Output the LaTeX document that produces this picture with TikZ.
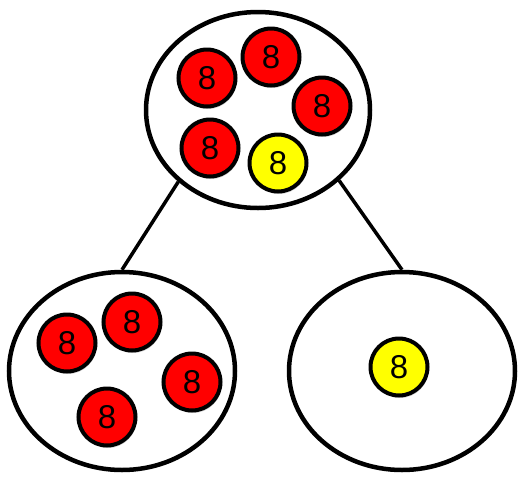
\documentclass[tikz,border=0pt]{standalone}
\usepackage{fontspec}
\setmainfont{Liberation Sans}
\usepackage{tikz}
\usetikzlibrary{shapes.geometric}
\usetikzlibrary{shadows}
\definecolor{ball-red}{HTML}{FF0000}
\definecolor{ball-yellow}{HTML}{FFFF00}

\begin{document}
\begin{tikzpicture}[
    x=1pt, y=-1pt,
    line width=3.5pt
  ]

  % Styles for the sets and the counters
  \tikzset{
    set/.style={draw=black, ellipse, fill=white, inner sep=0pt, line width=4.5pt},
    bigset/.style={set, minimum width=224pt, minimum height=196pt},
    counter/.style={draw=black, circle, inner sep=0pt, minimum size=57pt, line width=4pt,
      font=\fontsize{33}{33}\selectfont, drop shadow={shadow xshift=1pt, shadow yshift=-2.5pt, opacity=0.35}},
    redcounter/.style={counter, fill=ball-red},
    yellowcounter/.style={counter, fill=ball-yellow}
  }

  \useasboundingbox (0,0) rectangle (522,499);

  % The three sets
  \node (whole) [bigset] at (258,110) {};
  \node (left)  [bigset, minimum width=226pt, minimum height=198pt] at (122,371) {};
  \node (right) [bigset, minimum width=226pt, minimum height=198pt] at (402,371) {};

  % Branches of the tree
  \draw (whole.222) -- (left.north);
  \draw (whole.319) -- (right.north);

  % Counters in the whole
  \node (w1) [redcounter] at (207,78) {8};
  \node (w2) [redcounter] at (271,57) {8};
  \node (w3) [redcounter] at (322,106) {8};
  \node (w4) [redcounter] at (210,148) {8};
  \node (w5) [yellowcounter] at (278,163) {8};

  % Counters in the left part
  \node (l1) [redcounter] at (67,343) {8};
  \node (l2) [redcounter] at (132,322) {8};
  \node (l3) [redcounter] at (192,382) {8};
  \node (l4) [redcounter] at (107,417) {8};

  % Counter in the right part
  \node (r1) [yellowcounter] at (399,367) {8};

\end{tikzpicture}
\end{document}
